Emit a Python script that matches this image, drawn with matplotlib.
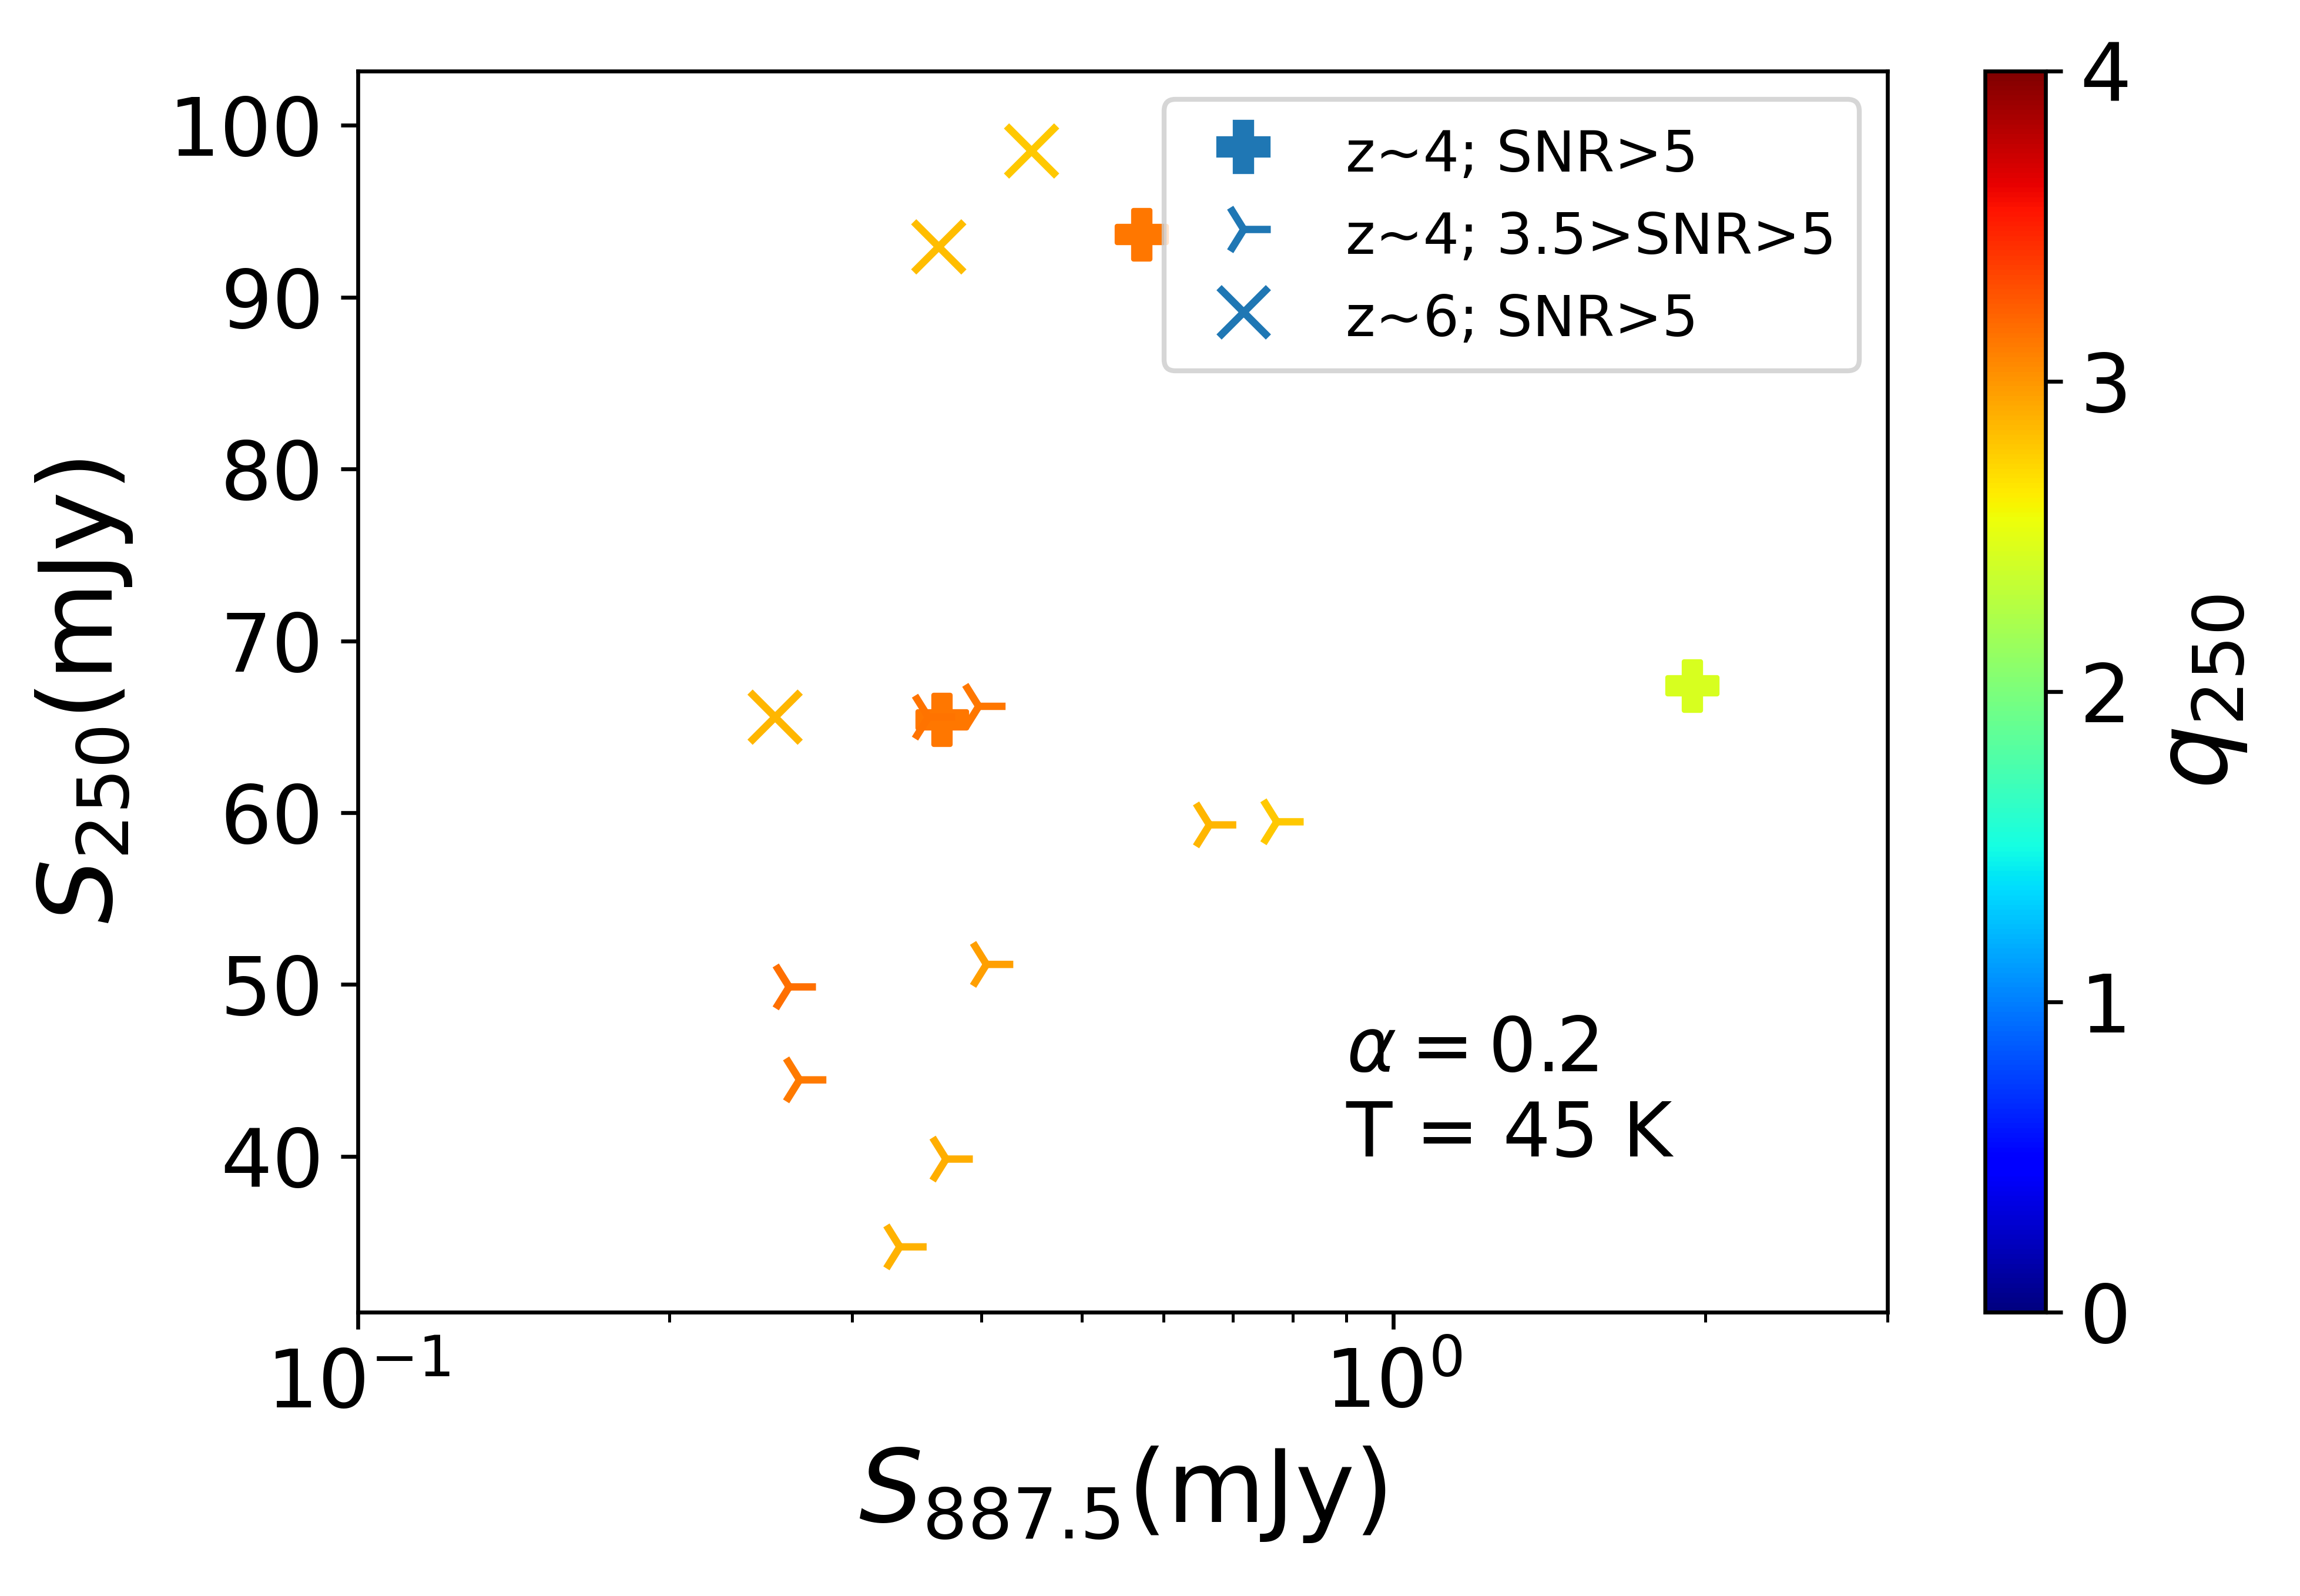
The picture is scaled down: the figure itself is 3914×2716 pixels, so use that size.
import matplotlib
matplotlib.use("Agg")
import matplotlib.pyplot as plt
from matplotlib.lines import Line2D
from matplotlib.ticker import MultipleLocator

# z~4, SNR>5
x_p = [0.5715, 0.3666, 1.944]
y_p = [93.64, 65.40, 67.38]
q_p = [3.13, 3.14, 2.44]

# z~4, 3.5>SNR>5
x_t = [0.3977, 0.3556, 0.6643, 0.7717, 0.4046, 0.2609, 0.2670, 0.3698, 0.3337]
y_t = [66.19, 65.56, 59.29, 59.47, 51.17, 49.86, 44.45, 39.84, 34.73]
q_t = [3.13, 3.15, 2.86, 2.79, 2.96, 3.17, 3.11, 2.90, 2.88]

# z~6, SNR>5
x_x = [0.4473, 0.3639, 0.2529]
y_x = [98.51, 92.93, 65.56]
q_x = [2.79, 2.84, 2.86]

labels = ['z~4; SNR>5', 'z~4; 3.5>SNR>5', 'z~6; SNR>5']

W, H = 3914, 2716
dpi = 600
fig = plt.figure(figsize=(W/dpi, H/dpi), dpi=dpi)
ax = fig.add_axes([609/W, (H-2233)/H, (3212-609)/W, (2233-121)/H])
cax = fig.add_axes([3378/W, (H-2233)/H, 103/W, (2233-121)/H])

sz = 100
sc = ax.scatter(x_p, y_p, c=q_p, cmap='jet', vmin=0, vmax=4, marker='P', s=sz)
ax.scatter(x_t, y_t, c=q_t, cmap='jet', vmin=0, vmax=4, marker='4', s=sz*1.2)
ax.scatter(x_x, y_x, c=q_x, cmap='jet', vmin=0, vmax=4, marker='x', s=sz*1.05)

ax.set_xscale('log')
ax.set_xlim(0.1, 3.0)
ax.set_ylim(30.93, 103.16)
ax.yaxis.set_major_locator(MultipleLocator(10))
ax.tick_params(labelsize=16.6)
ax.set_xlabel(r'$S_{887.5}$(mJy)', fontsize=20.6)
ax.set_ylabel(r'$S_{250}$(mJy)', fontsize=20.8, labelpad=7)

ax.text(0.9, 40, '$\\alpha = 0.2$\nT = 45 K', fontsize=15.4, va='baseline')

handles = [
    Line2D([], [], marker='P', color='C0', linestyle='None', markersize=10),
    Line2D([], [], marker='4', color='C0', linestyle='None', markersize=11, markeredgewidth=1.5),
    Line2D([], [], marker='x', color='C0', linestyle='None', markersize=10, markeredgewidth=1.5),
]
ax.legend(handles, labels, loc='upper right', fontsize=11.6, borderpad=0.4,
          labelspacing=0.38, handleheight=1.25)

cb = fig.colorbar(sc, cax=cax)
cb.set_ticks([0, 1, 2, 3, 4])
cb.ax.tick_params(labelsize=16.6)
cb.set_label(r'$q_{250}$', fontsize=20.6)

fig.savefig('out.png', dpi=dpi)
